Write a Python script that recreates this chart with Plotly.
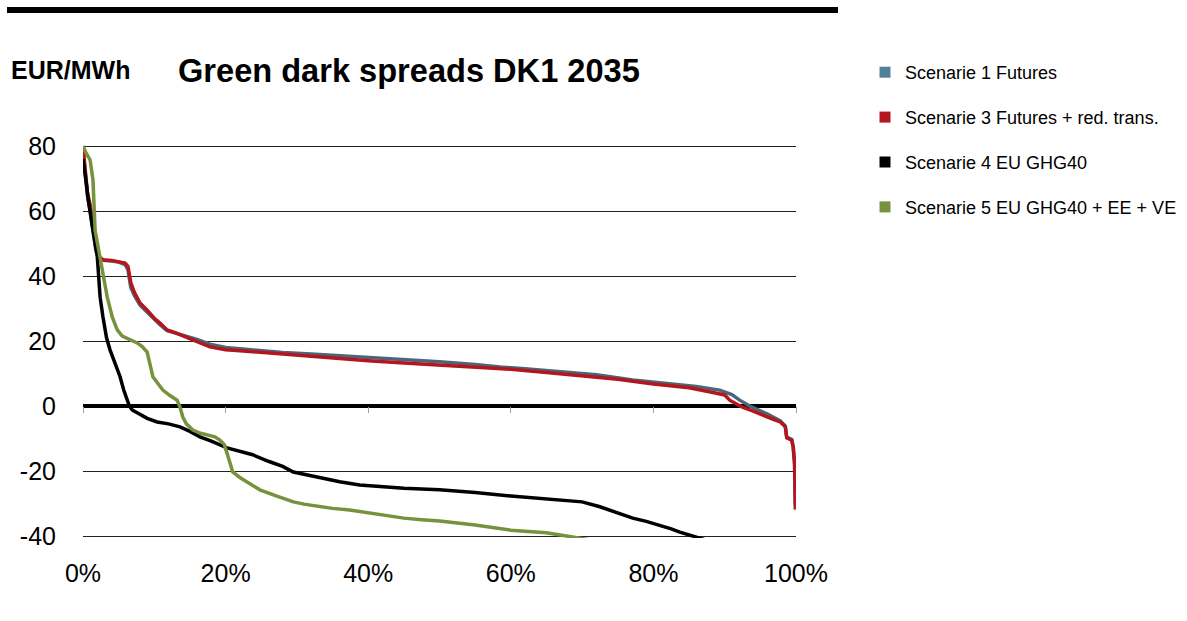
import plotly.graph_objects as go

# ---- data (percent of hours, EUR/MWh) ----
s1_x = [0, 0.3, 0.6, 1.0, 1.4, 1.8, 2.2, 2.8, 4.0, 5.0, 5.9, 6.3, 6.7, 7.2, 8.0, 9.0, 10.0, 10.8, 11.8, 13, 14.6, 16, 17.8, 20, 22, 24.8, 28, 32, 36, 40, 45, 50, 55, 58.5, 62, 67.9, 72, 77.1, 82, 86, 89.3, 91, 92.1, 93.5, 95, 96, 97.8, 98.5, 98.7, 99.4, 99.6, 99.8, 99.9, 100]
s1_y = [79, 71, 65, 60, 54, 48, 45.5, 44.8, 44.6, 44.3, 43.5, 42, 36.5, 34, 31, 28.8, 26.5, 25, 23.2, 22.5, 21.5, 20.5, 19, 18, 17.6, 17, 16.5, 16, 15.5, 15, 14.3, 13.6, 12.8, 12, 11.5, 10.5, 9.6, 8, 6.8, 6, 4.9, 3.5, 1.8, 0, -1.5, -2.5, -4.6, -6.2, -9.6, -10.3, -12.4, -17, -30, -31]

s3_x = [0, 0.3, 0.6, 1.0, 1.4, 1.8, 2.2, 2.8, 4.0, 5.0, 5.9, 6.3, 6.7, 7.2, 8.0, 9.0, 10.0, 10.8, 11.8, 13, 14.6, 16, 17.8, 20, 22, 24.8, 28, 32, 36, 40, 45, 50, 55, 60, 65, 70, 75, 80, 85, 88, 90, 90.7, 92.4, 94, 95.9, 97, 97.8, 98.5, 98.7, 99.4, 99.6, 99.8, 99.9, 100]
s3_y = [80, 72, 66, 62, 56, 49, 46, 45, 44.8, 44.5, 44, 43, 38, 35, 31.7, 29.5, 27, 25.5, 23.4, 22.5, 21.2, 19.8, 18.2, 17.3, 17, 16.5, 16, 15.3, 14.6, 13.9, 13.2, 12.5, 12, 11.3, 10.3, 9.2, 8.2, 6.8, 5.6, 4.3, 3.4, 1.8, -0.3, -1.6, -3.4, -4.3, -4.9, -6.4, -9.8, -10.5, -12.6, -18, -31.4, -31.5]

s4_x = [0, 0.3, 0.5, 0.7, 1.0, 1.4, 2.0, 2.4, 2.8, 3.3, 3.8, 4.5, 5.2, 5.7, 6.2, 6.5, 6.9, 8, 9, 10.4, 12, 13.6, 15, 16.4, 18, 20.2, 22, 23.8, 26, 28, 29.5, 32, 34.2, 36, 38.8, 42, 45, 50, 55, 60, 65, 70, 72.5, 75, 77.1, 79, 80.9, 82.5, 83.7, 85, 86.1, 90, 95, 100]
s4_y = [76, 72, 68, 64, 59, 54, 46, 33.5, 27.4, 21, 17.2, 13, 9, 5, 1.8, 0, -1.2, -2.5, -3.8, -4.9, -5.5, -6.4, -7.8, -9.5, -10.8, -12.9, -14, -15, -17, -18.6, -20.3, -21.5, -22.5, -23.3, -24.3, -24.9, -25.3, -25.8, -26.6, -27.7, -28.5, -29.5, -31, -33, -34.5, -35.5, -36.6, -37.8, -38.8, -39.6, -40.3, -43, -48, -58]

s5_x = [0, 0.4, 1.0, 1.4, 1.7, 2.1, 2.5, 2.8, 3.4, 4.1, 4.8, 5.5, 6.5, 7.6, 8.3, 9.0, 9.8, 10.5, 11.2, 12.2, 13.2, 13.6, 14.0, 14.5, 15.4, 16.5, 17.4, 18.5, 19.2, 19.8, 20.2, 20.6, 21, 22, 23, 24.8, 27, 29.5, 31, 33.2, 35, 37.4, 40, 42.5, 45, 47.5, 50, 55, 60, 65, 68, 72, 80, 90, 100]
s5_y = [80, 78, 75.7, 69.5, 54, 49, 45, 41.8, 33.5, 27.4, 23.4, 21.5, 20.5, 19.4, 18.3, 16.6, 9, 6.8, 4.9, 3.2, 1.8, -0.3, -3.4, -5.5, -7.4, -8.4, -8.9, -9.5, -10.5, -11.8, -14.5, -17.5, -20.3, -22, -23.4, -25.8, -27.6, -29.5, -30.2, -31, -31.5, -32, -32.9, -33.8, -34.5, -35, -35.4, -36.6, -38.2, -39, -40, -41.5, -45, -50, -60]

series_names = ["Scenarie 1 Futures", "Scenarie 3 Futures + red. trans.",
                "Scenarie 4 EU GHG40", "Scenarie 5 EU GHG40 + EE + VE"]
line_colors = ["#4A6678", "#B4161D", "#000000", "#76923C"]
legend_colors = ["#4F8199", "#B4161D", "#000000", "#76923C"]

y_tickvals = [80, 60, 40, 20, 0, -20, -40]
y_ticktext = ["80", "60", "40", "20", "0", "-20", "-40"]
x_tickvals = [0, 20, 40, 60, 80, 100]
x_ticktext = ["0%", "20%", "40%", "60%", "80%", "100%"]

FONT = "Liberation Sans, Arial, sans-serif"

fig = go.Figure()
xs = [s1_x, s3_x, s4_x, s5_x]
ys = [s1_y, s3_y, s4_y, s5_y]
for i in range(4):
    fig.add_trace(go.Scatter(x=xs[i], y=ys[i], mode="lines",
                             line=dict(color=line_colors[i], width=3.5),
                             showlegend=False, hoverinfo="skip"))
for i in range(4):
    fig.add_trace(go.Scatter(x=[None], y=[None], mode="markers", name=series_names[i],
                             marker=dict(symbol="square", size=11, color=legend_colors[i]),
                             legendgroup=f"g{i}"))
# invisible trace to host the tick axis on the zero line
fig.add_trace(go.Scatter(x=[0, 100], y=[0, 0], xaxis="x2", mode="lines",
                         line=dict(width=0), showlegend=False, hoverinfo="skip"))

W, H = 1187, 621
# plot box is padded by 2px top/bottom so the 80 and -40 gridlines are drawn
L, R, T, B = 83, 1187 - 796, 144, 621 - 538
pw, ph = W - L - R, H - T - B
ypad = 2 / 3.25  # 2px in data units (3.25 px per unit)

def px(x):
    return (x - L) / pw

def py(y):
    return (H - B - y) / ph

ymin, ymax = -40 - ypad, 80 + ypad
fig.update_layout(
    width=W, height=H,
    margin=dict(l=L, r=R, t=T, b=B, autoexpand=False),
    paper_bgcolor="white", plot_bgcolor="white",
    font=dict(family=FONT, color="black"),
    xaxis=dict(range=[0, 100], tickvals=x_tickvals, ticktext=x_ticktext,
               showgrid=False, zeroline=False, showline=False, ticks="",
               tickfont=dict(size=25, family=FONT), ticklabelstandoff=18),
    xaxis2=dict(range=[0, 100], overlaying="x", anchor="free",
                position=(0 - ymin) / (ymax - ymin),
                tickvals=x_tickvals, showticklabels=False, ticks="outside", ticklen=6,
                tickcolor="#A0A0A0", tickwidth=1, showgrid=False, zeroline=False, showline=False),
    yaxis=dict(range=[ymin, ymax], tickvals=y_tickvals, ticktext=y_ticktext,
               showgrid=True, gridcolor="#222222", gridwidth=1,
               zeroline=True, zerolinecolor="black", zerolinewidth=4,
               showline=False, ticks="", tickfont=dict(size=25, family=FONT),
               ticklabelstandoff=26),
    legend=dict(x=px(865), y=py(54), xanchor="left", yanchor="top",
                font=dict(size=18, family=FONT, color="black"),
                traceorder="grouped", tracegroupgap=18.5, bgcolor="rgba(0,0,0,0)"),
    showlegend=True,
)

fig.add_shape(type="line", xref="paper", yref="paper",
              x0=px(7), x1=px(838), y0=py(10), y1=py(10),
              line=dict(color="black", width=6))

fig.add_annotation(text="<b>EUR/MWh</b>", xref="paper", yref="paper",
                   x=px(9), y=py(70), xanchor="left", yanchor="middle",
                   showarrow=False, font=dict(size=25, family=FONT, color="black"))
fig.add_annotation(text="<b>Green dark spreads DK1 2035</b>", xref="paper", yref="paper",
                   x=px(176), y=py(70), xanchor="left", yanchor="middle",
                   showarrow=False, font=dict(size=32.6, family=FONT, color="black"))

fig.write_html("out.html")
